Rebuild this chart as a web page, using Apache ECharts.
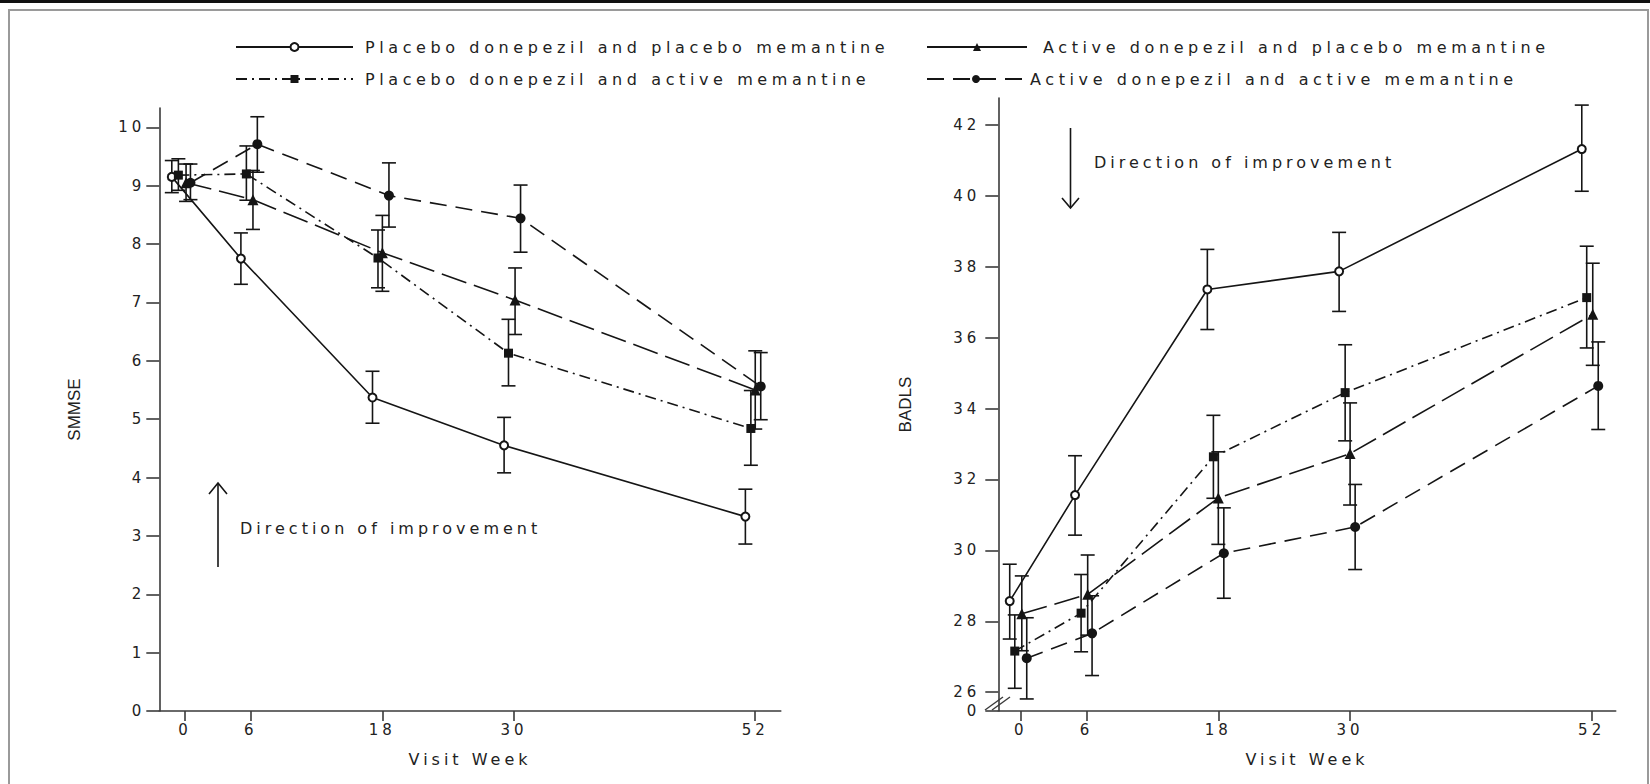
<!DOCTYPE html>
<html>
<head>
  <meta charset="utf-8">
  <title>SMMSE and BADLS by visit week</title>
  <style>
    html, body { margin: 0; padding: 0; background: #fff; }
    #chart { width: 1650px; height: 784px; }
    /* the original text is set wide, so spread the DejaVu texts a little */
    #chart text[style*="DejaVu"], #chart text[font-family*="DejaVu"] { letter-spacing: 4px; }
    /* legend text ("Verdana" falls back to DejaVu Sans) is a touch wider still */
    #chart text[style*="Verdana"], #chart text[font-family*="Verdana"] { letter-spacing: 4.6px; }
  </style>
</head>
<body>
  <div id="chart"></div>
  <script src="https://cdn.jsdelivr.net/npm/echarts@6/dist/echarts.min.js"></script>
  <script type="text/javascript">
    // group names (legend order)
    var groupNames = [
      "Placebo donepezil and placebo memantine",
      "Active donepezil and placebo memantine",
      "Placebo donepezil and active memantine",
      "Active donepezil and active memantine"
    ];

    // tick labels
    var weekTicks = [0, 6, 18, 30, 52];
    var smmseTicks = [0, 1, 2, 3, 4, 5, 6, 7, 8, 9, 10];
    var badlsTicks = [26, 28, 30, 32, 34, 36, 38, 40, 42];

    // SMMSE (left) - x = plotted week (groups are nudged apart), mean, lower, upper
    var smmseWeekPP = [-1.2, 5.1, 17.1, 29.1, 51.1];
    var smmseMeanPP = [9.15, 7.75, 5.37, 4.55, 3.33];
    var smmseLowPP  = [8.88, 7.31, 4.93, 4.08, 2.86];
    var smmseHighPP = [9.43, 8.19, 5.82, 5.03, 3.80];

    var smmseWeekAP = [0.1, 6.2, 18.0, 30.1, 52.0];
    var smmseMeanAP = [9.05, 8.76, 7.85, 7.04, 5.50];
    var smmseLowAP  = [8.73, 8.25, 7.19, 6.45, 4.83];
    var smmseHighAP = [9.37, 9.26, 8.49, 7.59, 6.17];

    var smmseWeekPA = [-0.6, 5.6, 17.6, 29.5, 51.6];
    var smmseMeanPA = [9.18, 9.20, 7.76, 6.13, 4.84];
    var smmseLowPA  = [8.92, 8.75, 7.25, 5.57, 4.21];
    var smmseHighPA = [9.46, 9.68, 8.24, 6.71, 5.49];

    var smmseWeekAA = [0.5, 6.6, 18.6, 30.6, 52.5];
    var smmseMeanAA = [9.05, 9.71, 8.83, 8.44, 5.56];
    var smmseLowAA  = [8.76, 9.23, 8.29, 7.86, 4.99];
    var smmseHighAA = [9.37, 10.18, 9.39, 9.01, 6.14];

    // BADLS (right)
    var badlsWeekPP = [-1.0, 4.95, 17.0, 29.0, 51.1];
    var badlsMeanPP = [28.57, 31.56, 37.36, 37.87, 41.32];
    var badlsLowPP  = [27.50, 30.43, 36.23, 36.74, 40.13];
    var badlsHighPP = [29.61, 32.67, 38.49, 38.97, 42.56];

    var badlsWeekAP = [0.1, 6.1, 18.0, 30.0, 52.1];
    var badlsMeanAP = [28.21, 28.76, 31.48, 32.73, 36.66];
    var badlsLowAP  = [27.17, 27.61, 30.17, 31.28, 35.22];
    var badlsHighAP = [29.28, 29.87, 32.78, 34.16, 38.10];

    var badlsWeekPA = [-0.54, 5.5, 17.55, 29.55, 51.55];
    var badlsMeanPA = [27.16, 28.23, 32.64, 34.45, 37.13];
    var badlsLowPA  = [26.11, 27.14, 31.47, 33.09, 35.71];
    var badlsHighPA = [28.18, 29.32, 33.81, 35.80, 38.58];

    var badlsWeekAA = [0.55, 6.5, 18.5, 30.46, 52.6];
    var badlsMeanAA = [26.96, 27.66, 29.92, 30.66, 34.64];
    var badlsLowAA  = [25.81, 26.47, 28.65, 29.46, 33.41];
    var badlsHighAA = [28.10, 28.72, 31.20, 31.86, 35.88];

    var ink = "#151515";
    var axisInk = "#3a3a3a";
    var font = "DejaVu Sans";

    // look of each group: marker + line dash
    var looks = [
      { symbol: "circle", size: 8, fill: "#fff", dash: "solid" },
      { symbol: "triangle", size: 11, fill: ink, dash: [26, 8] },
      { symbol: "rect", size: 9, fill: ink, dash: [11, 5, 2, 5] },
      { symbol: "circle", size: 10, fill: ink, dash: [17, 9] }
    ];

    var panels = [
      {
        weeks: [smmseWeekPP, smmseWeekAP, smmseWeekPA, smmseWeekAA],
        means: [smmseMeanPP, smmseMeanAP, smmseMeanPA, smmseMeanAA],
        lows: [smmseLowPP, smmseLowAP, smmseLowPA, smmseLowAA],
        highs: [smmseHighPP, smmseHighAP, smmseHighPA, smmseHighAA]
      },
      {
        weeks: [badlsWeekPP, badlsWeekAP, badlsWeekPA, badlsWeekAA],
        means: [badlsMeanPP, badlsMeanAP, badlsMeanPA, badlsMeanAA],
        lows: [badlsLowPP, badlsLowAP, badlsLowPA, badlsLowAA],
        highs: [badlsHighPP, badlsHighAP, badlsHighPA, badlsHighAA]
      }
    ];

    function errorBars(params, api) {
      var x = api.value(0);
      var lo = api.coord([x, api.value(1)]);
      var hi = api.coord([x, api.value(2)]);
      var cap = 7;
      var st = { stroke: ink, lineWidth: 1.6 };
      return {
        type: "group",
        children: [
          { type: "line", shape: { x1: lo[0], y1: lo[1], x2: hi[0], y2: hi[1] }, style: st },
          { type: "line", shape: { x1: lo[0] - cap, y1: lo[1], x2: lo[0] + cap, y2: lo[1] }, style: st },
          { type: "line", shape: { x1: hi[0] - cap, y1: hi[1], x2: hi[0] + cap, y2: hi[1] }, style: st }
        ]
      };
    }

    var series = [];
    panels.forEach(function (p, pi) {
      for (var g = 0; g < 4; g++) {
        var w = p.weeks[g];
        series.push({
          type: "custom",
          name: groupNames[g] + " SE",
          xAxisIndex: pi,
          yAxisIndex: pi,
          z: 2,
          renderItem: errorBars,
          encode: { x: 0, y: [1, 2] },
          data: w.map(function (x, i) { return [x, p.lows[g][i], p.highs[g][i]]; }),
          silent: true
        });
        series.push({
          type: "line",
          name: groupNames[g],
          xAxisIndex: pi,
          yAxisIndex: pi,
          z: 3,
          symbol: looks[g].symbol,
          symbolSize: looks[g].size,
          showAllSymbol: true,
          lineStyle: { color: ink, width: 1.6, type: looks[g].dash },
          itemStyle: { color: looks[g].fill, borderColor: ink, borderWidth: looks[g].fill === "#fff" ? 2 : 0 },
          emphasis: { disabled: true },
          data: w.map(function (x, i) { return [x, p.means[g][i]]; })
        });
      }
    });

    var textBase = { fontFamily: font, fontSize: 15, color: "#222" };

    function weekAxis(idx, min, max) {
      return {
        type: "value",
        gridIndex: idx,
        min: min,
        max: max,
        name: "Visit Week",
        nameLocation: "middle",
        nameGap: 40,
        nameTextStyle: { fontFamily: font, fontSize: 16, color: "#222" },
        splitLine: { show: false },
        axisLine: { onZero: false, lineStyle: { color: axisInk, width: 1.6 } },
        axisTick: { length: 10, customValues: weekTicks, lineStyle: { color: axisInk, width: 1.6 } },
        axisLabel: Object.assign({ margin: 11, customValues: weekTicks }, textBase)
      };
    }

    function legendFor(i, left, top, width, pad, solid) {
      var lg = {
        data: [groupNames[i]],
        left: left,
        top: top,
        padding: 0,
        itemWidth: width,
        itemHeight: 10,
        selectedMode: false,
        textStyle: { fontFamily: "Verdana, DejaVu Sans", fontSize: 16, color: "#222", padding: [0, 0, 0, pad] }
      };
      if (solid) lg.lineStyle = { type: "solid" };
      return lg;
    }

    var option = {
      animation: false,
      backgroundColor: "#fff",
      legend: [
        legendFor(0, 235, 39, 117, 7),
        legendFor(1, 926, 39, 100, 11, true),
        legendFor(2, 235, 71, 117, 7),
        legendFor(3, 926, 71, 98, 0)
      ],
      grid: [
        { left: 159.3, right: 869.2, top: 108, bottom: 73 },
        { left: 998.3, right: 34.3, top: 98, bottom: 73 }
      ],
      xAxis: [weekAxis(0, -2.34, 54.33), weekAxis(1, -2.04, 54.19)],
      yAxis: [
        {
          type: "value",
          gridIndex: 0,
          min: 0,
          max: 10.33,
          name: "SMMSE",
          nameLocation: "middle",
          nameGap: 76,
          nameTextStyle: { fontFamily: "Liberation Sans", fontSize: 17, color: "#222" },
          splitLine: { show: false },
          axisLine: { onZero: false, lineStyle: { color: axisInk, width: 1.6 } },
          axisTick: { length: 13, customValues: smmseTicks, lineStyle: { color: axisInk, width: 1.6 } },
          axisLabel: Object.assign({ margin: 14, customValues: smmseTicks }, textBase)
        },
        {
          type: "value",
          gridIndex: 1,
          min: 25.47,
          max: 42.76,
          name: "BADLS",
          nameLocation: "middle",
          nameGap: 84,
          nameTextStyle: { fontFamily: "Liberation Sans", fontSize: 17, color: "#222" },
          splitLine: { show: false },
          axisLine: { onZero: false, lineStyle: { color: axisInk, width: 1.6 } },
          axisTick: { length: 13, customValues: [25.47].concat(badlsTicks), lineStyle: { color: axisInk, width: 1.6 } },
          axisLabel: Object.assign({
            margin: 18,
            customValues: [25.47].concat(badlsTicks),
            formatter: function (v) { return v < 26 ? "0" : String(v); }
          }, textBase)
        }
      ],
      graphic: [
        // page frame
        { type: "rect", shape: { x: 0, y: 0, width: 1650, height: 3 }, style: { fill: "#111" }, silent: true },
        { type: "rect", shape: { x: 9, y: 10, width: 1639, height: 800 }, style: { fill: null, stroke: "#9a9a9a", lineWidth: 2 }, silent: true },
        // axis break on BADLS
        { type: "line", shape: { x1: 985, y1: 710, x2: 1003, y2: 697 }, style: { stroke: axisInk, lineWidth: 1.4 }, z: 10 },
        { type: "line", shape: { x1: 992, y1: 710, x2: 1010, y2: 697 }, style: { stroke: axisInk, lineWidth: 1.4 }, z: 10 },
        // direction arrows
        { type: "line", shape: { x1: 218, y1: 567, x2: 218, y2: 484 }, style: { stroke: ink, lineWidth: 1.6 } },
        { type: "polyline", shape: { points: [[209, 494], [218, 483], [227, 494]] }, style: { stroke: ink, lineWidth: 1.6, fill: null } },
        { type: "text", x: 240, y: 528, style: { text: "Direction of improvement", fontFamily: font, fontSize: 16, fill: "#222", verticalAlign: "middle" } },
        { type: "line", shape: { x1: 1070.5, y1: 128, x2: 1070.5, y2: 207 }, style: { stroke: ink, lineWidth: 1.6 } },
        { type: "polyline", shape: { points: [[1062, 198], [1070.5, 208], [1079, 198]] }, style: { stroke: ink, lineWidth: 1.6, fill: null } },
        { type: "text", x: 1094, y: 162, style: { text: "Direction of improvement", fontFamily: font, fontSize: 16, fill: "#222", verticalAlign: "middle" } }
      ],
      series: series
    };

    var dom = document.getElementById("chart");
    var myChart = echarts.init(dom, null, { renderer: "svg" });
    myChart.setOption(option);
  </script>
</body>
</html>
